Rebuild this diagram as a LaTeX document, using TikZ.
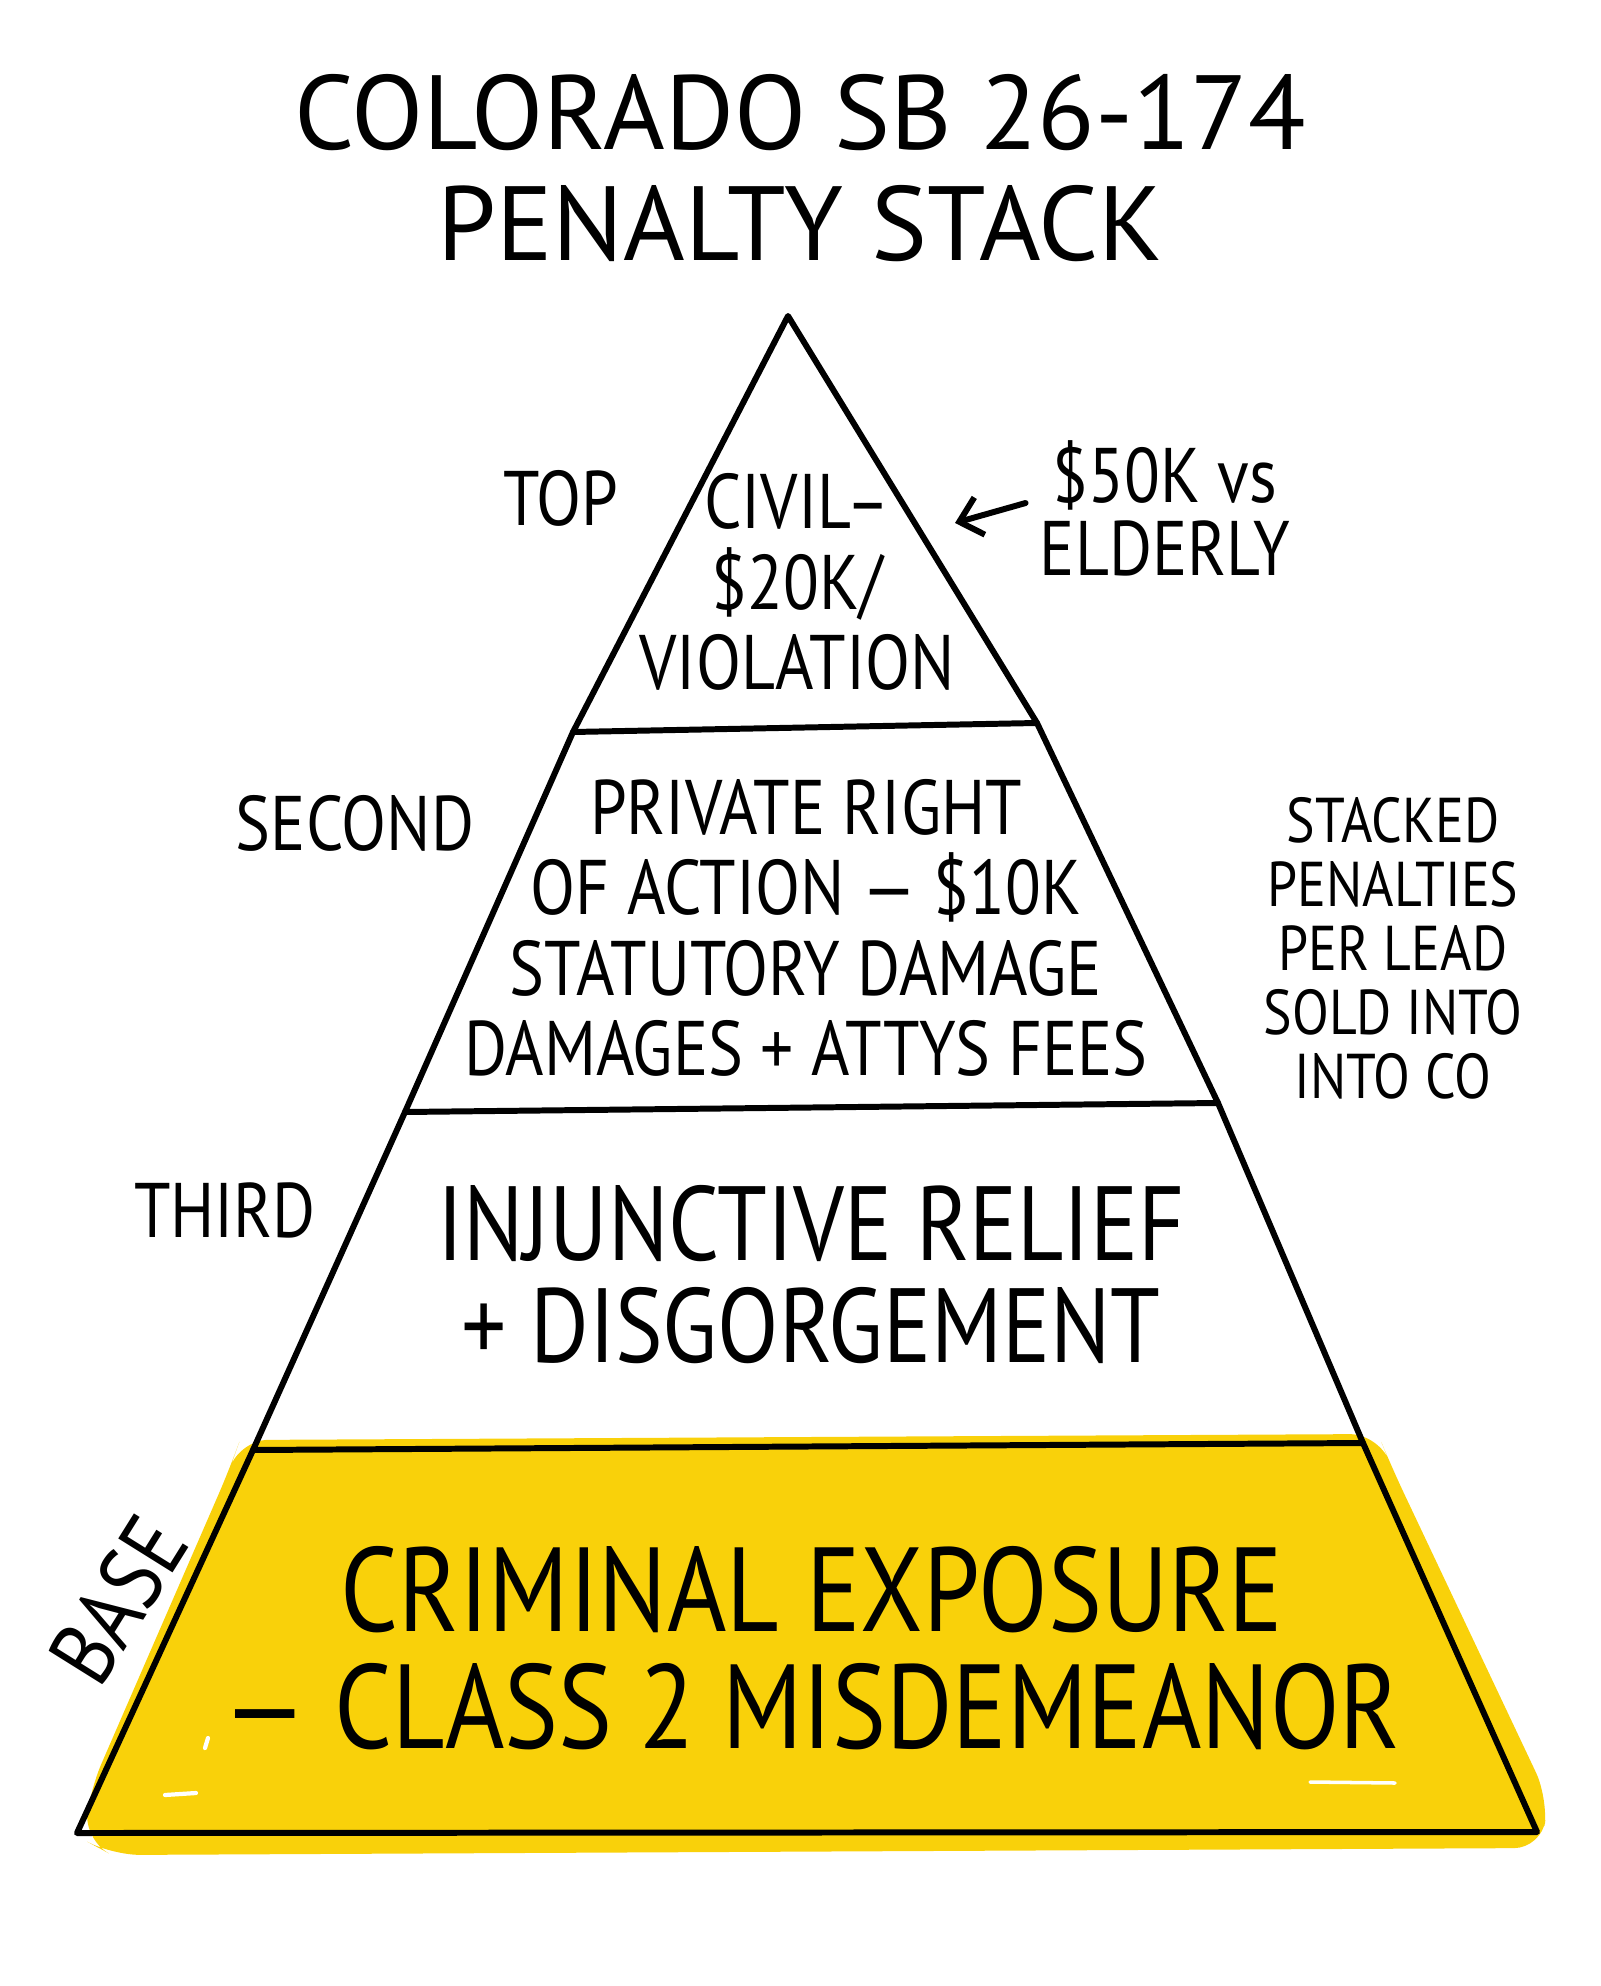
\documentclass[tikz,border=0pt]{standalone}
\usepackage{fontspec}
\setmainfont{PT Sans}
\newfontfamily\handfont[FakeStretch=0.85]{PT Sans}
\usetikzlibrary{positioning, arrows.meta}

\definecolor{markeryellow}{HTML}{F9D10A}

\tikzset{
  outline/.style={line width=1.7pt, line cap=round, line join=round},
  tiertext/.style={align=center, inner sep=0pt},
  sidenote/.style={align=center, inner sep=0pt, font=\handfont\fontsize{22}{23}\selectfont},
}

\begin{document}
\begin{tikzpicture}[x=0.01cm, y=-0.01cm]
    \useasboundingbox (0,0) rectangle (1600,1986);

    \node[align=center, font=\fontsize{30}{31.6}\selectfont] (title) at (800,168)
        {COLORADO SB 26-174\\PENALTY STACK};

    % corners of the stack
    \coordinate (apex) at (788,316);
    \coordinate (l1) at (573,732);  \coordinate (r1) at (1037,723);
    \coordinate (l2) at (405,1112); \coordinate (r2) at (1218,1103);
    \coordinate (l3) at (253,1450); \coordinate (r3) at (1363,1443);
    \coordinate (bl) at (77,1833);  \coordinate (br) at (1537,1832);

    % marker fill of the base
    \fill[markeryellow, rounded corners=8] (240,1440) -- (1378,1434) -- (1392,1468)
        -- (1548,1798) -- (1542,1848) -- (112,1855) -- (84,1840) -- (90,1790)
        -- (230,1468) -- cycle;
    \draw[white, line width=1.2pt, line cap=round] (165,1795) -- (196,1793);
    \draw[white, line width=1.2pt, line cap=round] (205,1748) -- (208,1738);
    \draw[white, line width=1pt, line cap=round] (1310,1782) -- (1395,1783);

    \draw[outline] (apex) -- (r1) -- (r2) -- (r3) -- (br) -- (bl) -- (l3) -- (l2) -- (l1) -- cycle;
    \draw[outline] (l1) -- (r1);
    \draw[outline] (l2) -- (r2);
    \draw[outline] (l3) -- (r3);

    % tier texts
    \node[tiertext, font=\handfont\fontsize{22}{23}\selectfont] (civil) at (797,582)
        {CIVIL–\\\$20K/\\VIOLATION};
    \node[tiertext, font=\handfont\fontsize{22}{22.8}\selectfont] (private) at (806,928)
        {PRIVATE RIGHT\\OF ACTION — \$10K\\STATUTORY DAMAGE\\DAMAGES + ATTYS FEES};
    \node[tiertext, font=\handfont\fontsize{30}{29}\selectfont] (injunctive) at (811,1275)
        {INJUNCTIVE RELIEF\\+ DISGORGEMENT};
    \node[tiertext, font=\handfont\fontsize{34}{33.3}\selectfont] (criminal) at (812,1648)
        {CRIMINAL EXPOSURE\\— CLASS 2 MISDEMEANOR};

    % side labels
    \node[sidenote] (top) at (561,498) {TOP};
    \node[sidenote] (second) at (355,823) {SECOND};
    \node[sidenote] (third) at (225,1210) {THIRD};
    \node[sidenote, rotate=58, font=\handfont\fontsize{26}{26}\selectfont] (base) at (118,1600)
        {BASE};
    \node[sidenote, font=\handfont\fontsize{22}{20.8}\selectfont] (elderly) at (1165,508)
        {\$50K vs\\ELDERLY};
    \node[sidenote, font=\handfont\fontsize{18}{18.2}\selectfont] (stacked) at (1393,948)
        {STACKED\\PENALTIES\\PER LEAD\\SOLD INTO\\INTO CO};

    \coordinate (elderlytip) at (955,523);
    \draw[outline, shorten <=4pt, -{Straight Barb[length=6pt, width=11pt]}]
        (elderly.176) -- (elderlytip);
\end{tikzpicture}
\end{document}
